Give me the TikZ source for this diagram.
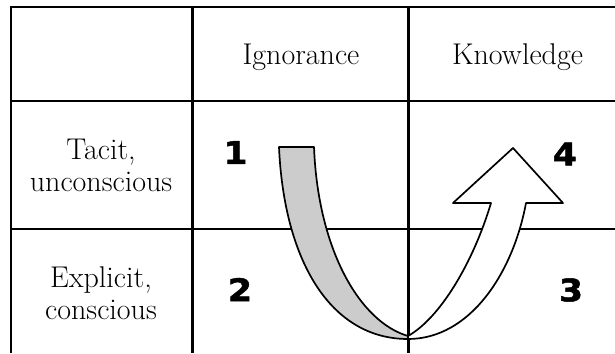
\documentclass[tikz,border=0pt]{standalone}
\usepackage{fontspec}
\newfontfamily\numfont[FakeStretch=1.12, BoldFeatures={FakeBold=1.6}]{DejaVu Sans}
\usepackage{tikz}

\begin{document}
\begin{tikzpicture}[
    x=0.5pt, y=-0.5pt,
    vrule/.style = {draw=black, line width=1.5pt},
    hrule/.style = {draw=black, line width=1.2pt},
    head/.style = {
        font=\fontsize{15}{16.5}\selectfont,
        anchor=base, inner sep=0pt
    },
    side/.style = {
        font=\fontsize{15}{16}\selectfont,
        align=center, inner sep=0pt
    },
    num/.style = {
        font=\numfont\bfseries\fontsize{15.5}{16}\selectfont,
        inner sep=0pt
    },
    band/.style = {draw=black, line width=0.85pt, line join=round}
]
\useasboundingbox (0,0) rectangle (615,353);

%% ---- TABLE LINES ----
\draw[vrule, line width=1.4pt] (11,353) -- (11,7) -- (615,7);
\foreach \x in {192, 408}
    \draw[vrule] (\x,7) -- (\x,353);
\draw[hrule] (11,101) -- (615,101);
\draw[hrule] (11,229) -- (615,229);

%% ---- HEADINGS ----
\node[head] (ign)  at (301,65)   {Ignorance};
\node[head] (know) at (517.5,65) {Knowledge};

\node[side] (tacit) at (101,165) {Tacit,\\unconscious};
\node[side] (expl)  at (101,293) {Explicit,\\conscious};

%% ---- QUADRANT NUMBERS ----
\node[num] (n1) at (235.5,152.5) {1};
\node[num] (n4) at (565,154)     {4};
\node[num] (n2) at (240,289.5)   {2};
\node[num] (n3) at (571,290)     {3};

%% ---- U-TURN ----
% grey leg going down
\draw[band, fill=black!20]
    (279,147) -- (314,147)
    .. controls (318,250) and (360,322) .. (408,336)
    -- (408,339)
    .. controls (330,339) and (284,260) .. (279,147) -- cycle;

% white leg with the arrow head going up
\draw[band, fill=white]
    (408,336) .. controls (440,318) and (473,263) .. (491,203)
    -- (453,203) -- (513,148) -- (563,203) -- (526,203)
    .. controls (513,273) and (470,339) .. (408,339) -- cycle;

\end{tikzpicture}
\end{document}
